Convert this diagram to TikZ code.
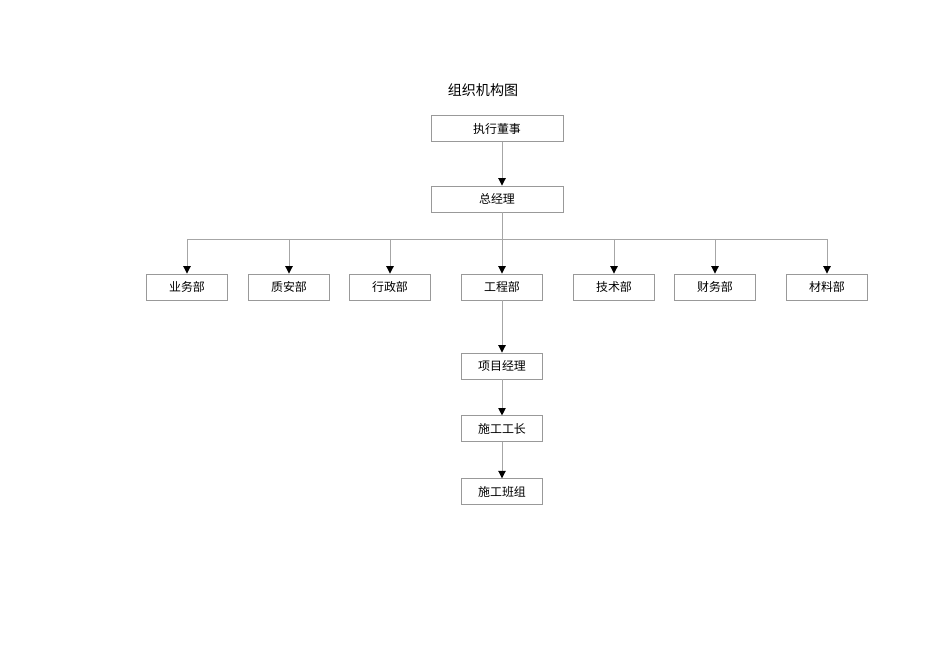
\documentclass[tikz,border=0pt]{standalone}
\usepackage{fontspec}
\setmainfont{Liberation Serif}
\newfontfamily\cjk{Noto Sans CJK SC}
\usepackage{tikz}
\usetikzlibrary{positioning,arrows.meta}

\begin{document}
\begin{tikzpicture}[
    x=0.02cm, y=-0.02cm,
    node distance=0.72cm,
    box/.style={rectangle, draw=black!40, line width=0.5pt, minimum width=1.63cm, minimum height=0.52cm, inner sep=0pt, font=\cjk\fontsize{6.8}{8}\selectfont, align=center},
    widebox/.style={box, minimum width=2.64cm},
    arrow/.style={-{Triangle[width=4.2pt,length=4.2pt,black]}, black!35, line width=0.5pt},
    line/.style={black!35, line width=0.5pt},
    title/.style={font=\cjk\fontsize{8}{10}\selectfont},
]
\useasboundingbox (0,0) rectangle (950,672);

% Top: board and general manager
\node[title] (chart) at (483,90) {组织机构图};
\node[widebox] (board) at (497,128.5) {执行董事};
\node[widebox] (gm) at (497,199) {总经理};

% Departments
\node[box] (sales) at (187,287) {业务部};
\node[box] (quality) at (289,287) {质安部};
\node[box] (admin) at (390,287) {行政部};
\node[box] (eng) at (502,287) {工程部};
\node[box] (tech) at (614,287) {技术部};
\node[box] (finance) at (715,287) {财务部};
\node[box] (material) at (827,287) {材料部};

% Project chain
\node[box] (pm) at (502,366) {项目经理};
\node[box, below=of pm] (foreman) {施工工长};
\node[box, below=of foreman] (crew) {施工班组};

% Arrows
\draw[arrow] (board.south -| eng) -- (gm.north -| eng);
\coordinate (bus) at (502,239);
\draw[line] (gm.south -| eng) -- (bus);
\draw[line] (bus -| sales) -- (bus -| material);
\foreach \d in {sales,quality,admin,eng,tech,finance,material}
    \draw[arrow] (bus -| \d) -- (\d.north);
\draw[arrow] (eng) -- (pm);
\draw[arrow] (pm) -- (foreman);
\draw[arrow] (foreman) -- (crew);

\end{tikzpicture}
\end{document}
